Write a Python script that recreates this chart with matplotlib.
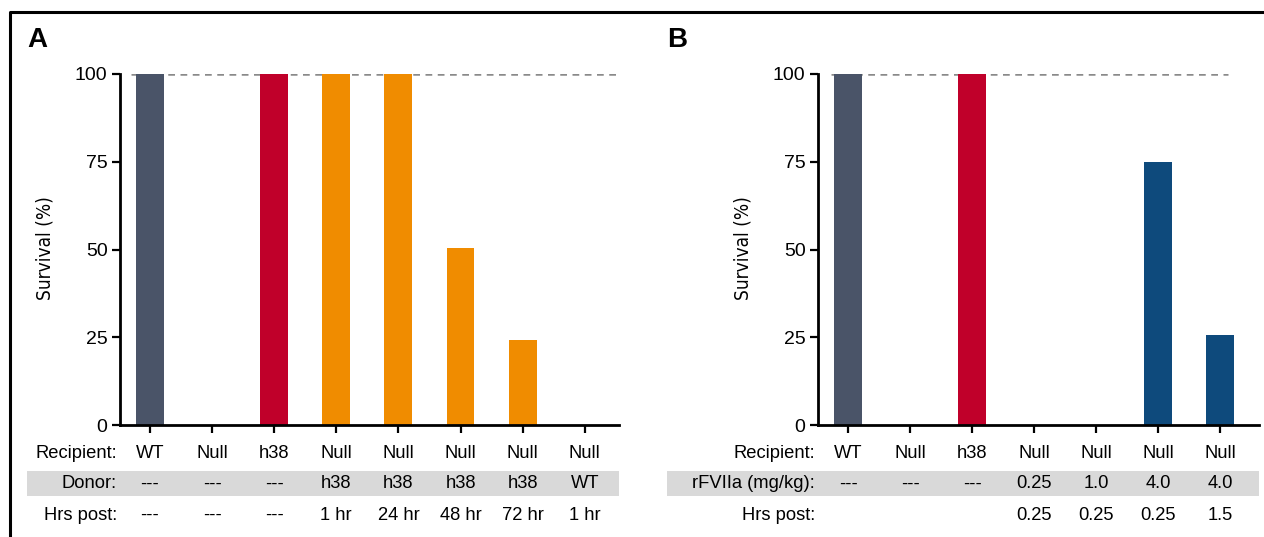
import numpy as np
import matplotlib

matplotlib.use("Agg")
import matplotlib.pyplot as plt
from matplotlib.patches import Rectangle
from matplotlib.lines import Line2D
from matplotlib.transforms import blended_transform_factory

plt.rcParams["font.family"] = ["Liberation Sans", "DejaVu Sans"]

# panel A: donor plasma transfer
a_recipient = ["WT", "Null", "h38", "Null", "Null", "Null", "Null", "Null"]
a_donor = ["---", "---", "---", "h38", "h38", "h38", "h38", "WT"]
a_hrs = ["---", "---", "---", "1 hr", "24 hr", "48 hr", "72 hr", "1 hr"]
a_survival = [100, 0, 100, 100, 100, 50.5, 24.3, 0]
a_colors = ["#4a5468", "#4a5468", "#c0002a", "#f08c00", "#f08c00", "#f08c00", "#f08c00", "#f08c00"]

# panel B: rFVIIa rescue
b_recipient = ["WT", "Null", "h38", "Null", "Null", "Null", "Null"]
b_dose = ["---", "---", "---", "0.25", "1.0", "4.0", "4.0"]
b_hrs = ["", "", "", "0.25", "0.25", "0.25", "1.5"]
b_survival = [100, 0, 100, 0, 0, 75, 25.6]
b_colors = ["#4a5468", "#4a5468", "#c0002a", "#0e4a7c", "#0e4a7c", "#0e4a7c", "#0e4a7c"]

W, H = 1264, 537
FS = 13.2


def fx(px):
    return px / W


def fy(py):
    return (H - py) / H


def _panel(fig, left, right, xlim, values, colors, rows, row_names, dash, letter, band_x):
    ax = fig.add_axes([fx(left), fy(425), fx(right - left), (425 - 74) / H])
    x = np.arange(len(values))
    ax.bar(x, values, width=0.45, color=colors, zorder=2, clip_on=False)
    ax.axhline(100, xmin=dash[0], xmax=dash[1], color="#8a8a8a", lw=1.8,
               ls=(0, (2.7, 2.2)), zorder=1)
    ax.set_xlim(*xlim)
    ax.set_ylim(0, 100)
    ax.set_yticks([0, 25, 50, 75, 100])
    ax.set_xticks(x)
    ax.set_xticklabels([])
    ax.tick_params(axis="both", direction="out", length=6, width=1.6, color="black")
    ax.tick_params(axis="y", labelsize=FS + 0.8, pad=3)
    for s in ("top", "right"):
        ax.spines[s].set_visible(False)
    for s in ("left", "bottom"):
        ax.spines[s].set_linewidth(2)
        ax.spines[s].set_zorder(3)

    # gray band behind second row
    fig.patches.append(Rectangle((fx(band_x[0]), fy(496)), fx(band_x[1] - band_x[0]), 25 / H,
                                 transform=fig.transFigure, facecolor="#d9d9d9",
                                 edgecolor="none", zorder=-5))

    tr = blended_transform_factory(ax.transData, fig.transFigure)
    for row, name, ypx in zip(rows, row_names, (453, 484, 515)):
        fig.text(fx(left - 3), fy(ypx), name, ha="right", va="center", fontsize=FS)
        for i, lab in enumerate(row):
            ax.text(i, fy(ypx), lab, ha="center", va="center", fontsize=FS,
                    transform=tr, clip_on=False)

    fig.text(fx(band_x[0]), fy(40), letter, ha="left", va="center",
             fontsize=20, fontweight="bold")
    fig.text(fx(left - 75), fy(248), "Survival (%)", rotation=90, ha="center", va="center",
             fontsize=FS + 0.5, family="DejaVu Sans", fontstretch="condensed")
    return ax


fig = plt.figure(figsize=(W / 100, H / 100), dpi=100)

_panel(fig, 120, 619, (-0.483, 7.552), a_survival, a_colors,
       [a_recipient, a_donor, a_hrs], ["Recipient:", "Donor:", "Hrs post:"],
       (0.022, 0.994), "A", (27, 619))
_panel(fig, 818, 1259, (-0.484, 6.629), b_survival, b_colors,
       [b_recipient, b_dose, b_hrs], ["Recipient:", "rFVIIa (mg/kg):", "Hrs post:"],
       (0.03, 0.93), "B", (667, 1259))

# outer frame (cropped on right and bottom)
fig.lines.append(Line2D([fx(10), fx(10), 1.0], [0.0, fy(12), fy(12)],
                        transform=fig.transFigure, color="black", lw=2.2))

fig.savefig("out.png", dpi=100)
plt.close(fig)
